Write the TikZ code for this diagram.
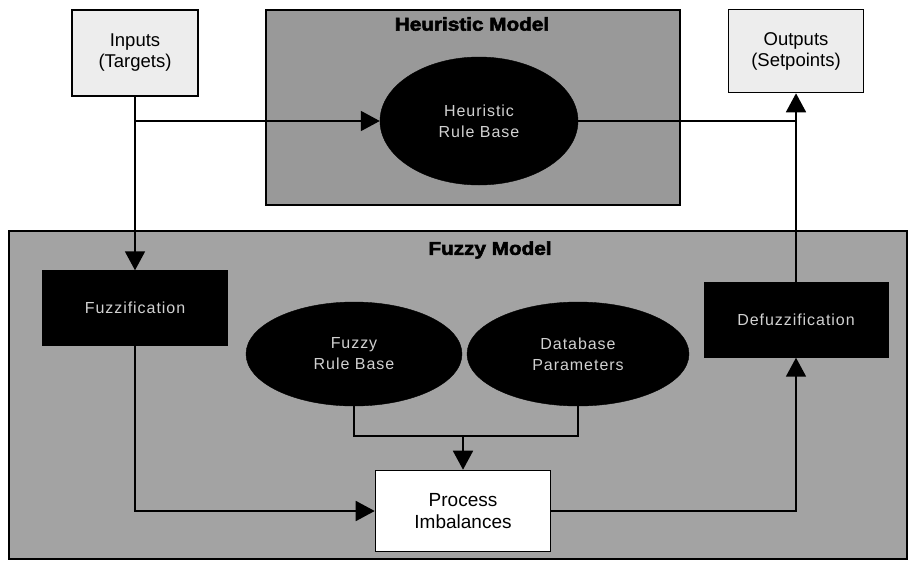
\documentclass[tikz,border=0pt]{standalone}
\usepackage{fontspec}
\setmainfont{Liberation Sans}
\newfontfamily\titlefont{Liberation Sans Bold}[FakeBold=3,FakeStretch=1.12]
\newfontfamily\lightfont{Liberation Sans}[LetterSpace=6]
\usetikzlibrary{arrows.meta,shapes.geometric}
\begin{document}
\begin{tikzpicture}[x=1pt,y=-1pt,
  panel/.style={draw=black,line width=1.6pt,fill=black!36,anchor=north west,inner sep=0pt},
  title/.style={font=\titlefont\fontsize{18.5}{21}\selectfont,text=black},
  iobox/.style={draw=black,line width=1.6pt,fill=black!7,align=center,inner sep=0pt,
    font=\fontsize{18.5}{21}\selectfont},
  darkbox/.style={fill=black,draw=black,text=white!82!black,inner sep=0pt,
    font=\lightfont\fontsize{16}{20}\selectfont,align=center},
  darkell/.style={ellipse,fill=black,draw=black,text=white!82!black,inner sep=0pt,
    font=\lightfont\fontsize{16}{21}\selectfont,align=center},
  procbox/.style={draw=black,line width=1.6pt,fill=white,align=center,inner sep=0pt,
    font=\fontsize{19}{22}\selectfont},
  conn/.style={draw=black,line width=1.8pt},
  arr/.style={conn,-{Triangle[length=19pt,width=20pt]}}]
\useasboundingbox (0,0) rectangle (909,563);
\fill[white] (0,0) rectangle (909,563);
% panels
\node[panel,minimum width=414pt,minimum height=195pt,fill=black!40] (hpanel) at (265,9) {};
\node[panel,minimum width=898pt,minimum height=328pt] (fpanel) at (8,230) {};
\node[title] (htitle) at (472,24) {Heuristic Model};
\node[title] (ftitle) at (490,250) {Fuzzy Model};
% boxes
\node[iobox,minimum width=126pt,minimum height=86pt] (inputs) at (135,53) {Inputs\\(Targets)};
\node[iobox,minimum width=135pt,minimum height=83pt] (outputs) at (796,51) {Outputs\\(Setpoints)};
\node[darkell,minimum width=198pt,minimum height=128pt] (hrb) at (479,121) {Heuristic\\Rule Base};
\node[darkbox,minimum width=185pt,minimum height=75pt] (fuzz) at (135,308) {Fuzzification};
\node[darkbox,minimum width=184pt,minimum height=75pt] (defuzz) at (796,320) {Defuzzification};
\node[darkell,minimum width=216pt,minimum height=104pt] (frb) at (354,354) {Fuzzy\\Rule Base};
\node[darkell,minimum width=222pt,minimum height=104pt] (dbp) at (578,354) {Database\\Parameters};
\node[procbox,minimum width=175pt,minimum height=81pt] (proc) at (463,511) {Process\\Imbalances};
% connectors
\coordinate (hj) at (inputs.south |- hrb.west);
\coordinate (oj) at (outputs.south |- hrb.east);
\coordinate (fl) at (352,436);
\coordinate (mj) at (proc.north |- fl);
\draw[arr] (inputs.south) -- (fuzz.north);
\draw[arr] (hj) -- (hrb.west);
\draw[conn] (hrb.east) -- (oj);
\draw[arr] (defuzz.north) -- (outputs.south);
\draw[conn] (frb.south) -- (frb.south |- fl) -| (dbp.south);
\draw[arr] (mj) -- (proc.north);
\draw[arr] (fuzz.south) |- (proc.west);
\draw[arr] (proc.east) -| (defuzz.south);
\end{tikzpicture}
\end{document}
